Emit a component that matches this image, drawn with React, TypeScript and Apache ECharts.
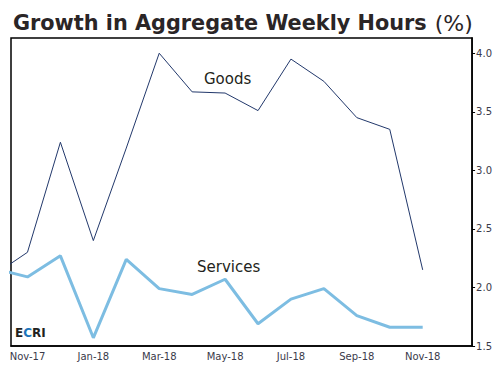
import React, { useEffect, useRef } from "react";
import * as echarts from "echarts";

const months = ["Oct-17", "Nov-17", "Dec-17", "Jan-18", "Feb-18", "Mar-18", "Apr-18", "May-18", "Jun-18", "Jul-18", "Aug-18", "Sep-18", "Oct-18", "Nov-18"];
const axisMonths = ["Nov-17", "Dec-17", "Jan-18", "Feb-18", "Mar-18", "Apr-18", "May-18", "Jun-18", "Jul-18", "Aug-18", "Sep-18", "Oct-18", "Nov-18", "Dec-18"];
const goods = [2.11, 2.3, 3.24, 2.4, 3.19, 4.0, 3.67, 3.66, 3.51, 3.95, 3.76, 3.45, 3.35, 2.15];
const services = [2.16, 2.09, 2.27, 1.57, 2.24, 1.99, 1.94, 2.07, 1.69, 1.9, 1.99, 1.76, 1.66, 1.66];
const yTicks = [1.5, 2.0, 2.5, 3.0, 3.5, 4.0];

export default function App() {
  const ref = useRef<HTMLDivElement>(null);
  useEffect(() => {
    if (!ref.current) return;
    const chart = echarts.init(ref.current, null, { renderer: "svg" });
    const toPoints = (vals: number[]) => vals.map((v, i) => [i - 1, v]);
    chart.setOption({
      animation: false,
      backgroundColor: "#fff",
      textStyle: { fontFamily: "DejaVu Sans" },
      title: {
        left: 8,
        top: 7,
        text: "{a|Growth in Aggregate Weekly Hours}{b|(%)}",
        textStyle: {
          rich: {
            a: { fontSize: 20.8, fontWeight: "bold", color: "#2a2526", fontFamily: "DejaVu Sans" },
            b: { fontSize: 22, fontWeight: "normal", color: "#2a2526", fontFamily: "DejaVu Sans", padding: [0, 0, 0, 8] },
          },
        },
      },
      grid: {
        left: 11,
        right: 22,
        top: 38,
        bottom: 29,
        show: true,
        borderColor: "#000",
        borderWidth: 1.5,
        containLabel: false,
      },
      xAxis: [
        {
          type: "category",
          data: axisMonths,
          boundaryGap: true,
          axisLine: { lineStyle: { color: "#000", width: 1.5 } },
          axisTick: {
            inside: true,
            length: 3,
            interval: (i: number) => i !== 1,
            lineStyle: { color: "#000", width: 1 },
          },
          axisLabel: { interval: 1, fontSize: 10, color: "#3a3a4a", margin: 5 },
          splitLine: { show: false },
        },
        {
          type: "value",
          min: -0.5,
          max: 13.5,
          show: false,
        },
      ],
      yAxis: {
        type: "value",
        position: "right",
        min: 1.5,
        max: 4.13,
        interval: 0.5,
        axisLine: { show: true, onZero: false, lineStyle: { color: "#000", width: 1.5 } },
        axisTick: { show: true, length: 3, customValues: yTicks, lineStyle: { color: "#000" } },
        axisLabel: {
          fontSize: 10,
          color: "#3a3a4a",
          margin: 4,
          customValues: yTicks,
          formatter: (v: number) => v.toFixed(1),
        },
        splitLine: { show: false },
      },
      series: [
        {
          name: "Goods",
          type: "line",
          xAxisIndex: 1,
          data: toPoints(goods),
          symbol: "none",
          clip: true,
          lineStyle: { color: "#22386b", width: 1 },
        },
        {
          name: "Services",
          type: "line",
          xAxisIndex: 1,
          data: toPoints(services),
          symbol: "none",
          clip: true,
          lineStyle: { color: "#7dbde2", width: 3 },
        },
      ],
      graphic: [
        { type: "text", left: 204, top: 71, style: { text: "Goods", fontSize: 15, fill: "#231f20", fontFamily: "DejaVu Sans" } },
        { type: "text", left: 197, top: 259, style: { text: "Services", fontSize: 15, fill: "#231f20", fontFamily: "DejaVu Sans" } },
        {
          type: "text",
          left: 15,
          top: 327,
          style: {
            text: "{d|E}{c|C}{d|RI}",
            rich: {
              d: { fontSize: 12, fontWeight: "bold", fill: "#231f20", fontFamily: "DejaVu Sans" },
              c: { fontSize: 12, fontWeight: "bold", fill: "#1b75bb", fontFamily: "DejaVu Sans" },
            },
          },
        },
      ],
    });
    return () => chart.dispose();
  }, []);
  void months;
  return <div ref={ref} style={{ width: 495, height: 375, position: "absolute", left: 0, top: 0 }} />;
}
